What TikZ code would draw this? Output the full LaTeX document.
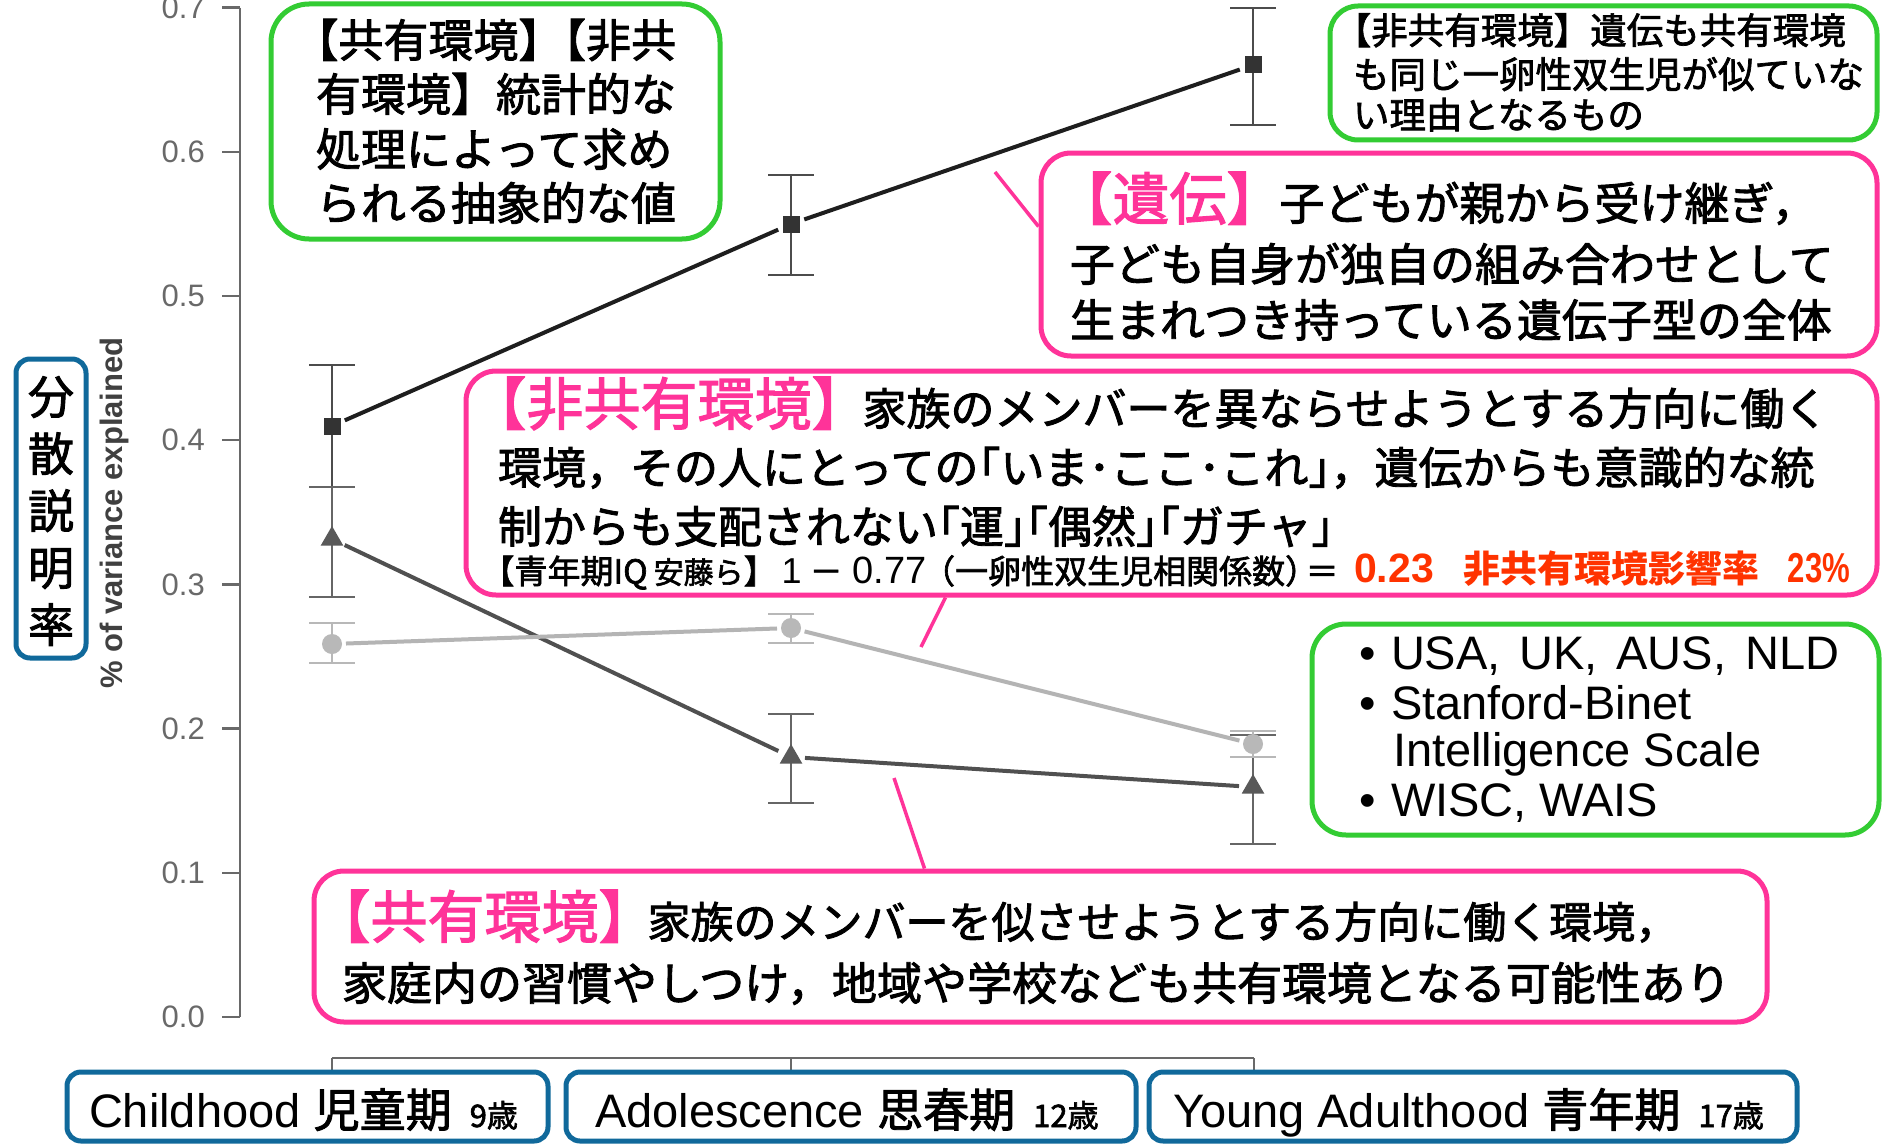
\documentclass[tikz,border=0pt]{standalone}
\usepackage{fontspec}
\setmainfont{Liberation Sans}
\newfontfamily\jp[FakeBold=2]{Noto Sans CJK JP}
\newfontfamily\jpr{Noto Sans CJK JP}
\newfontfamily\lat{Liberation Sans}
\usetikzlibrary{shapes.geometric,calc}
\newcommand{\fsz}[1]{\fontsize{#1}{#1}\selectfont}
\newcommand{\jlq}{\hspace{-0.5em}「}
\newcommand{\jrq}{」\hspace{-0.5em}}
\newcommand{\errbar}[4]{\draw[#4] (#1,#2) -- (#1,#3) (#1-23,#2) -- (#1+23,#2) (#1-23,#3) -- (#1+23,#3);}
\definecolor{grn}{RGB}{51,204,51}
\definecolor{pnk}{RGB}{255,51,153}
\definecolor{blu}{RGB}{16,105,155}
\definecolor{rd}{RGB}{255,51,0}
\definecolor{axc}{RGB}{105,105,105}
\definecolor{gcol}{RGB}{30,30,30}
\definecolor{scol}{RGB}{80,80,80}
\definecolor{ncol}{RGB}{180,180,180}
\begin{document}
\begin{tikzpicture}[x=1pt,y=-1pt,
  gbox/.style={draw=grn,line width=5pt,rounded corners=38pt,fill=white,inner sep=0pt},
  pbox/.style={draw=pnk,line width=5pt,rounded corners=30pt,fill=white,inner sep=0pt},
  bbox/.style={draw=blu,line width=5pt,rounded corners=14pt,fill=white,inner sep=0pt},
  tx/.style={anchor=base west,inner sep=0pt,outer sep=0pt,font=\jp},
  lt/.style={anchor=base west,inner sep=0pt,outer sep=0pt,font=\lat},
  conn/.style={draw=pnk,line width=3.5pt},
  ebg/.style={draw=black!70,line width=2.2pt},
  ebs/.style={draw=black!60,line width=2.2pt},
  ebn/.style={draw=black!28,line width=2.2pt},
  sqm/.style={rectangle,fill=black!80,minimum size=17pt,inner sep=0pt},
  trm/.style={regular polygon,regular polygon sides=3,fill=black!65,minimum size=26pt,inner sep=0pt},
  cim/.style={circle,fill=black!28,minimum size=20pt,inner sep=0pt},
  ticklab/.style={anchor=east,inner sep=0pt,font=\lat\fsz{31},text=axc}
]
\fill[white] (0,0) rectangle (1884,1145);
\useasboundingbox (0,0) rectangle (1884,1145);

% ---------- axes ----------
\draw[axc,line width=2.5pt] (240,7.6) -- (240,1017);
\foreach \v/\yy in {0.0/1017,0.1/872.8,0.2/728.6,0.3/584.4,0.4/440.2,0.5/296,0.6/151.8,0.7/7.6}{
  \draw[axc,line width=2.5pt] (222,\yy) -- (240,\yy);
  \node[ticklab] (t\v) at (205,\yy) {\v};
}
\node[rotate=90,inner sep=0pt,font=\lat\bfseries\fsz{31},text=black!75] (ylab) at (114,513) {\% of variance explained};
\draw[axc,line width=2.5pt] (332,1058) -- (1254,1058);
\foreach \xx in {332,791,1254}{\draw[axc,line width=2.5pt] (\xx,1058) -- (\xx,1075);}

% ---------- data ----------
\coordinate (g1) at (332,426); \coordinate (g2) at (791,224); \coordinate (g3) at (1253,65);
\coordinate (s1) at (332,539); \coordinate (s2) at (791,757); \coordinate (s3) at (1253,787);
\coordinate (n1) at (332,644); \coordinate (n2) at (791,628); \coordinate (n3) at (1253,744);

\errbar{332}{365}{487}{ebg}
\errbar{791}{175}{275}{ebg}
\errbar{1253}{8}{125}{ebg}
\errbar{332}{487}{597}{ebs}
\errbar{791}{714}{803}{ebs}
\errbar{1253}{735}{844}{ebs}
\errbar{332}{623}{663}{ebn}
\errbar{791}{614}{643}{ebn}
\errbar{1253}{731}{757}{ebn}

\draw[gcol,line width=4pt,shorten <=14pt,shorten >=14pt] (g1) -- (g2);
\draw[gcol,line width=4pt,shorten <=14pt,shorten >=14pt] (g2) -- (g3);
\draw[scol,line width=4pt,shorten <=14pt,shorten >=14pt] (s1) -- (s2);
\draw[scol,line width=4pt,shorten <=14pt,shorten >=14pt] (s2) -- (s3);
\draw[ncol,line width=4pt,shorten <=14pt,shorten >=14pt] (n1) -- (n2);
\draw[ncol,line width=4pt,shorten <=14pt,shorten >=14pt] (n2) -- (n3);

\node[sqm] (mg1) at (g1) {}; \node[sqm] (mg2) at (g2) {}; \node[sqm] (mg3) at (g3) {};
\node[trm] (ms1) at (s1) {}; \node[trm] (ms2) at (s2) {}; \node[trm] (ms3) at (s3) {};
\node[cim] (mn1) at (n1) {}; \node[cim] (mn2) at (n2) {}; \node[cim] (mn3) at (n3) {};

% ---------- boxes ----------
\node[bbox,minimum width=70pt,minimum height=299pt] (boxY) at (51,508.5) {};
\node[inner sep=0pt,align=center,font={\jp\fontsize{46}{57}\selectfont}] (ytxt) at (51,511) {分\\散\\説\\明\\率};

\node[gbox,minimum width=449pt,minimum height=235pt] (boxA) at (495.5,121.5) {};
\node[gbox,rounded corners=28pt,minimum width=547pt,minimum height=134pt] (boxB) at (1603.5,73) {};
\node[pbox,minimum width=836pt,minimum height=203pt] (boxC) at (1459,254.5) {};
\node[pbox,minimum width=1411pt,minimum height=224pt] (boxD) at (1171.5,483) {};
\node[gbox,rounded corners=34pt,minimum width=567pt,minimum height=211pt] (boxE) at (1595.5,729.5) {};
\node[pbox,minimum width=1453pt,minimum height=151pt] (boxF) at (1040.5,946.5) {};
\node[bbox,minimum width=481pt,minimum height=69pt] (boxX1) at (307.5,1106.5) {};
\node[bbox,minimum width=570pt,minimum height=69pt] (boxX2) at (851,1106.5) {};
\node[bbox,minimum width=648pt,minimum height=69pt] (boxX3) at (1473,1106.5) {};

% ---------- connectors ----------
\coordinate (pA) at (995,172);
\coordinate (pB) at (921,647);
\coordinate (pC) at (894,778);
\draw[conn] ($(boxC.west)+(0,-28)$) -- (pA);
\draw[conn] ($(boxD.south west)+(482,0)$) -- (pB);
\draw[conn] ($(boxF.north west)+(613,0)$) -- (pC);

% ---------- box A text ----------
\node[tx] (a1) at (316,57) {\fsz{45}\hspace{-0.5em}【共有環境】\hspace{-0.5em}【非共};
\node[tx] (a2) at (316,111) {\fsz{45}有環境】統計的な};
\node[tx] (a3) at (316,166) {\fsz{45}処理によって求め};
\node[tx] (a4) at (316,220) {\fsz{45}られる抽象的な値};

% ---------- box B text ----------
\node[tx] (b1) at (1353,44) {\fsz{36.5}\hspace{-0.5em}【非共有環境】遺伝も共有環境};
\node[tx] (b2) at (1353,88) {\fsz{36.5}も同じ一卵性双生児が似ていな};
\node[tx] (b3) at (1353,128.5) {\fsz{36.5}い理由となるもの};

% ---------- box C text ----------
\node[tx] (c1) at (1084,220) {{\color{pnk}\fsz{57}\hspace{-0.5em}【遺伝】}\hspace{-4pt}{\fsz{45}子どもが親から受け継ぎ，}};
\node[tx] (c2) at (1070,281) {\fsz{45}子ども自身が独自の組み合わせとして};
\node[tx] (c3) at (1070,337) {\fsz{45}生まれつき持っている遺伝子型の全体};

% ---------- box D text ----------
\node[tx] (d1) at (498,425) {{\color{pnk}\fsz{57}\hspace{-0.5em}【非共有環境】}\hspace{-6pt}{\fsz{44}家族のメンバーを異ならせようとする方向に働く}};
\node[tx] (d2) at (498,484) {\fsz{44}環境，その人にとっての\jlq いま･ここ･これ\jrq，遺伝からも意識的な統};
\node[tx] (d3) at (498,543) {\fsz{44}制からも支配されない\jlq 運\jrq\jlq 偶然\jrq\jlq ガチャ\jrq};
\node[tx] (d4) at (498,583.5) {\fsz{33}\hspace{-0.5em}【青年期IQ\hspace{6pt}{\fsz{30}安藤ら}】\hspace{5pt}{\lat\fsz{36}1}\hspace{8pt}－\hspace{10pt}{\lat\fsz{38}0.77}\hspace{12pt}\hspace{-0.5em}（一卵性双生児相関係数）\hspace{-0.5em}\hspace{4pt}＝};
\node[lt] (d5) at (1354,582) {\color{rd}\bfseries\fsz{41}0.23\hspace{30pt}{\jpr\fsz{37}非共有環境影響率}\hspace{28pt}\scalebox{0.76}[1.02]{\bfseries\fsz{41}23\%}};

% ---------- box E text ----------
\node[lt] (e1b) at (1359,669.5) {\fsz{47}•};
\node[lt] (e1) at (1391,669.5) {\fsz{47}USA,\hspace{0.4em}UK,\hspace{0.4em}AUS,\hspace{0.4em}NLD};
\node[lt] (e2b) at (1359,719) {\fsz{47}•};
\node[lt] (e2) at (1391,719) {\fsz{47}Stanford-Binet};
\node[lt] (e3) at (1393,766) {\fsz{47}Intelligence Scale};
\node[lt] (e4b) at (1359,816) {\fsz{47}•};
\node[lt] (e4) at (1391,816) {\fsz{47}WISC, WAIS};

% ---------- box F text ----------
\node[tx] (f1) at (342,938) {{\color{pnk}\fsz{57}\hspace{-0.5em}【共有環境】}\hspace{-8pt}{\fsz{43}家族のメンバーを似させようとする方向に働く環境，}};
\node[tx] (f2) at (342,1000) {\fsz{45}家庭内の習慣やしつけ，地域や学校なども共有環境となる可能性あり};

% ---------- x labels ----------
\node[lt] (x1) at (89,1127) {\fsz{47}Childhood {\jp\fsz{46}児童期}\hspace{18pt}{\jp\fsz{31}9歳}};
\node[lt] (x2) at (595,1127) {\fsz{47}Adolescence {\jp\fsz{46}思春期}\hspace{18pt}{\jp\fsz{31}12歳}};
\node[lt] (x3) at (1173,1127) {\fsz{47}Young Adulthood {\jp\fsz{46}青年期}\hspace{18pt}{\jp\fsz{31}17歳}};
\end{tikzpicture}
\end{document}
